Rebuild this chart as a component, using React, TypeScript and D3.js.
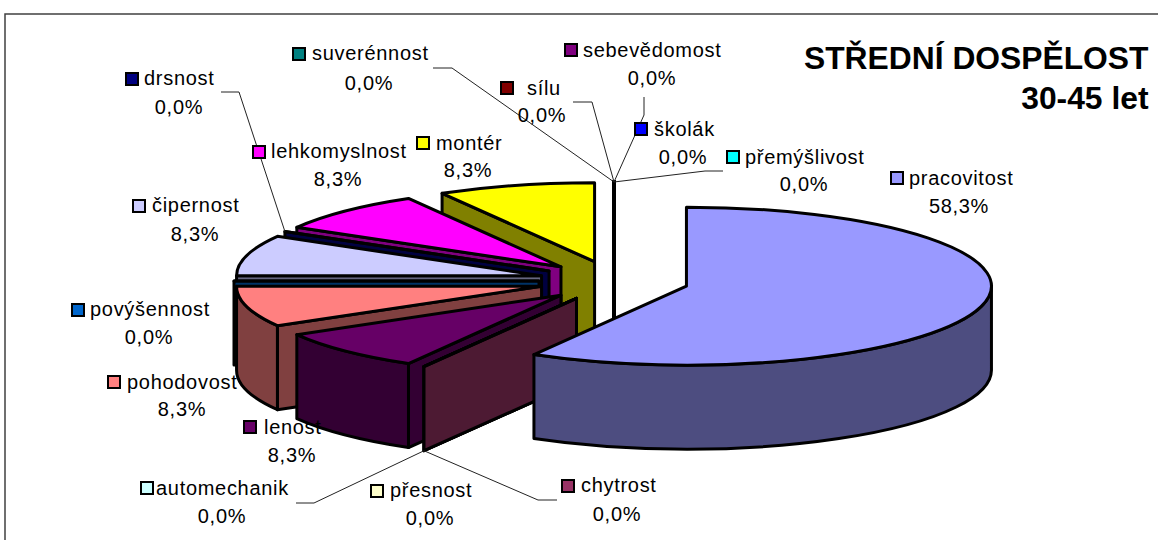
import React from "react";
import * as d3 from "d3";

const categories = ["pracovitost","chytrost","přesnost","automechanik","lenost","pohodovost","povýšennost","čipernost","drsnost","lehkomyslnost","montér","přemýšlivost","sebevědomost","sílu","suverénnost","školák"];
const counts = [7,0,0,0,1,1,0,1,0,1,1,0,0,0,0,0];
const colors = ["#9999ff","#993366","#ffffcc","#ccffff","#660066","#ff8080","#0066cc","#ccccff","#000080","#ff00ff","#ffff00","#00ffff","#800080","#800000","#008080","#0000ff"];
const titleLines = ["STŘEDNÍ DOSPĚLOST","30-45 let"];

// label layout: key centre, text start, baseline, centre and baseline of the value line
const labelLayout: Record<string,[number,number,number,number,number,number]> = {
  "pracovitost":[897,178,909,185,959,213],
  "chytrost":[568,486,581,492,617,521],
  "přesnost":[377,491,390,497,430,525],
  "automechanik":[147,488,156,495,222,523],
  "lenost":[250,427,264,434,292,462],
  "pohodovost":[114,382,127,389,182,416],
  "povýšennost":[78,310,90,316,149,344],
  "čipernost":[139,206,152,212,195,241],
  "drsnost":[132,79,144,85,179,114],
  "lehkomyslnost":[259,152,271,158,338,186],
  "montér":[423,143,436,150,468,177],
  "přemýšlivost":[733,157,745,164,804,191],
  "sebevědomost":[571,50,583,57,652,85],
  "sílu":[507,88,527,95,542,122],
  "suverénnost":[299,54,312,60,369,90],
  "školák":[641,129,654,136,683,164],
};
// leader elbows, from label end to the slice rim
const leaders: Record<string,[number,number][]> = {
  "drsnost":[[221,92],[239,92]],
  "suverénnost":[[433,68],[452,68]],
  "sílu":[[573,102],[592,102]],
  "sebevědomost":[[644,97],[644,115]],
  "přemýšlivost":[[723,171],[705,171]],
  "chytrost":[[557,500],[538,500]],
  "automechanik":[[296,503],[314,503]],
};

const CX = 614, CY = 281, RX = 305, RY = 79, EX = 75, EY = 20, H = 84;
const NUM_FONT = "'Liberation Sans', Arial, sans-serif";
const rad = Math.PI / 180;
const fmt = (v: number) => d3.format(".1f")(v).replace(".", ",") + "%";
const half = (c: string) => { const r = d3.rgb(c); return d3.rgb(r.r/2, r.g/2, r.b/2).formatHex(); };

export default function App() {
  const total = d3.sum(counts);
  const arcs = d3.pie<number>().sort(null).value(d => d)(counts);
  const geo = arcs.map((a, i) => {
    const mid = (a.startAngle + a.endAngle) / 2;
    const ax = CX + Math.sin(mid) * EX, ay = CY - Math.cos(mid) * EY;
    const pt = (t: number, dy = 0): [number, number] => [ax + Math.sin(t) * RX, ay - Math.cos(t) * RY + dy];
    return { a, i, ax, ay, pt, name: categories[i], color: colors[i] };
  });
  const order = [...geo.slice(1).reverse(), geo[0]];
  const stroke = 3;
  return (
    <svg width={1158} height={540} style={{ position: "absolute", left: 0, top: 0, display: "block", background: "#fff" }}>
      <path d="M1158,14 H5 V540" fill="none" stroke="#404040" strokeWidth={1.5} />
      <g stroke="#000" strokeLinejoin="round">
        {order.map(({ a, i, ax, ay, pt, color }) => {
          const s = a.startAngle, e = a.endAngle;
          const p0 = pt(s), p1 = pt(e);
          const large = e - s > Math.PI ? 1 : 0;
          const top = `M${ax},${ay}L${p0}A${RX},${RY} 0 ${large} 1 ${p1}Z`;
          const wall = `M${ax},${ay}L${p0}L${pt(s, H)}L${ax},${ay + H}Z`;
          const f0 = Math.max(s, 90 * rad), f1 = Math.min(e, 270 * rad);
          const face = f1 > f0 ? `M${pt(f0)}A${RX},${RY} 0 0 1 ${pt(f1)}L${pt(f1, H)}A${RX},${RY} 0 0 0 ${pt(f0, H)}Z` : null;
          const dark = half(color);
          const wallVisible = s > Math.PI;
          const edgeOn = Math.abs(s - 2 * Math.PI) < 1e-6;
          return (
            <g key={i} strokeWidth={edgeOn ? 4 : stroke}>
              {wallVisible && <path d={wall} fill={dark} />}
              {face && <path d={face} fill={dark} />}
              <path d={top} fill={color} />
            </g>
          );
        })}
      </g>
      <g fill="none" stroke="#222" strokeWidth={1}>
        {Object.entries(leaders).map(([name, pts]) => {
          const g = geo[categories.indexOf(name)];
          const low = g.a.startAngle > 90 * rad && g.a.startAngle < 270 * rad;
          const end = g.pt(g.a.startAngle, low ? H : 0);
          return <path key={name} d={d3.line()([...pts, end]) as string} />;
        })}
      </g>
      <g fontFamily={NUM_FONT} fontSize={20} letterSpacing={0.7} fill="#000">
        {geo.map(({ name, color, a, i }) => {
          const [kx, ky, tx, ty, vx, vy] = labelLayout[name];
          return (
            <g key={i}>
              <rect x={kx - 6} y={ky - 6} width={12} height={12} fill={color} stroke="#000" strokeWidth={2} />
              <text x={tx} y={ty}>{name}</text>
              <text x={vx} y={vy} textAnchor="middle">{fmt((counts[i] / total) * 100)}</text>
            </g>
          );
        })}
      </g>
      <g fontFamily={NUM_FONT} fontSize={31.8} fontWeight="bold" textAnchor="end" fill="#000">
        {titleLines.map((t, i) => <text key={t} x={1148.5} y={69 + i * 40}>{t}</text>)}
      </g>
    </svg>
  );
}
